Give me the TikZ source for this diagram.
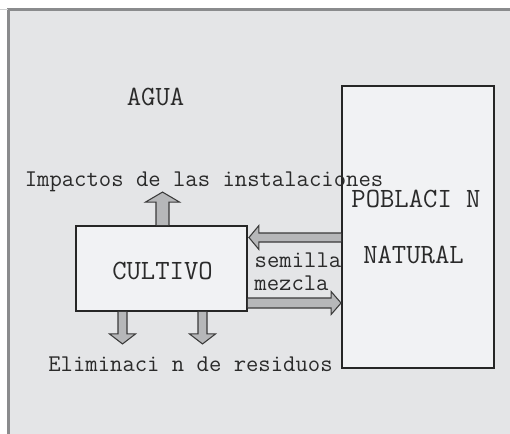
\documentclass[tikz,border=0pt]{standalone}
\usepackage{fontspec}
\usetikzlibrary{calc}
\definecolor{bgc}{HTML}{E4E5E7}
\definecolor{boxc}{HTML}{F1F2F4}
\definecolor{framec}{HTML}{8A8B8D}
\definecolor{arrc}{HTML}{B6B7B9}
\definecolor{arrline}{HTML}{3A3A3A}
\definecolor{txtc}{HTML}{2A2A2A}
\tikzset{
  boxst/.style={draw=black!85, line width=1.4pt, fill=boxc, inner sep=0pt, text=txtc},
  small/.style={font=\ttfamily\fontsize{18}{20}\selectfont, text=txtc, inner sep=0pt},
  big/.style={font=\ttfamily\fontsize{20.9}{23}\selectfont, text=txtc, inner sep=0pt},
  blockarrow/.style={draw=arrline, fill=arrc, line width=0.8pt, line join=miter}
}
\begin{document}
\begin{tikzpicture}[x=0.75pt,y=-0.75pt]
\useasboundingbox (0,0) rectangle (510,433);
\fill[bgc] (8.5,9.5) rectangle (515,440);
\draw[framec, line width=1.6pt] (8.5,440) -- (8.5,9.5) -- (515,9.5);
\draw[framec!40, line width=0.6pt] (0,9.5) -- (7.5,9.5);

% boxes
\node[boxst, minimum width=128.25pt, minimum height=63.75pt] (cult) at (161.5,268.5) {};
\node[big] (cultlbl) at (162.5,270.5) {CULTIVO};
\node[boxst, minimum width=114pt, minimum height=211.5pt] (pob) at (418,227) {};
\node[big] (pob1) at (416,199) {POBLACI N};
\node[big] (pob2) at (413.5,255) {NATURAL};

% labels
\node[big] (agua) at (155.5,97) {AGUA};
\node[small] (imp) at (204,182) {Impactos de las instalaciones};
\node[small] (elim) at (190.5,364) {Eliminaci n de residuos};
\node[small] (sem) at (298,260) {semilla};
\node[small] (mez) at (291.5,283) {mezcla};

% up arrow (impacts)
\coordinate (u) at ($(cult.north)+(1,0)$);
\draw[blockarrow] ($(u)+(-6.5,0)$) -- ($(u)+(-6.5,-23)$) -- ($(u)+(-17,-23)$) -- ($(u)+(0,-33)$)
  -- ($(u)+(17,-23)$) -- ($(u)+(6.5,-23)$) -- ($(u)+(6.5,0)$);

% down arrows (waste)
\foreach \dx/\nm in {-39/d1, 41/d2}{
  \coordinate (\nm) at ($(cult.south)+(\dx,0)$);
  \draw[blockarrow] ($(\nm)+(-4.5,0)$) -- ($(\nm)+(-4.5,22)$) -- ($(\nm)+(-13,22)$) -- ($(\nm)+(0,32)$)
    -- ($(\nm)+(13,22)$) -- ($(\nm)+(4.5,22)$) -- ($(\nm)+(4.5,0)$);
}

% left arrow: poblacion -> cultivo (semilla)
\coordinate (ls) at (pob.west |- 0,237.5);
\coordinate (lt) at (cult.east |- 0,237.5);
\draw[blockarrow] ($(ls)+(0,-4.5)$) -- ($(lt)+(11,-4.5)$) -- ($(lt)+(11,-12)$) -- ($(lt)+(1,0)$)
  -- ($(lt)+(11,12)$) -- ($(lt)+(11,4.5)$) -- ($(ls)+(0,4.5)$);

% right arrow: cultivo -> poblacion (mezcla)
\coordinate (rs) at (cult.east |- 0,303);
\coordinate (rt) at (pob.west |- 0,303);
\draw[blockarrow] ($(rs)+(0,-5)$) -- ($(rt)+(-10,-5)$) -- ($(rt)+(-10,-11.5)$) -- (rt)
  -- ($(rt)+(-10,11.5)$) -- ($(rt)+(-10,5)$) -- ($(rs)+(0,5)$);
\end{tikzpicture}
\end{document}
